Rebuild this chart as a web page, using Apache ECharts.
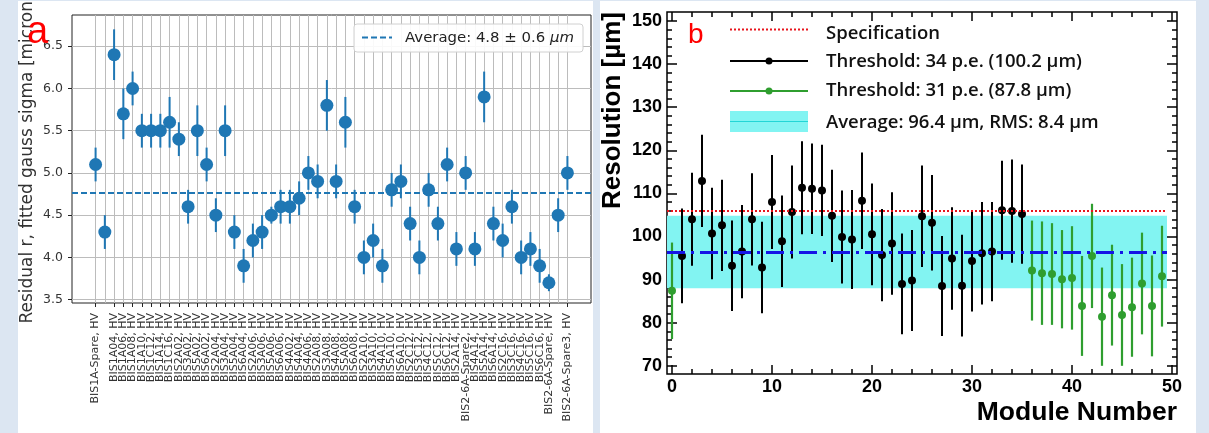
<!DOCTYPE html>
<html><head><meta charset="utf-8">
<script src="https://cdn.jsdelivr.net/npm/echarts@6/dist/echarts.min.js"></script>
<style>
html,body{margin:0;padding:0;background:#dce6f2;overflow:hidden;}
#wrap{position:relative;width:1209px;height:433px;}
.panel{position:absolute;background:#fff;}
#chart{position:absolute;left:0;top:0;width:1209px;height:433px;}
</style></head><body>
<div id="wrap">
<div class="panel" style="left:18px;top:1px;width:575px;height:432px"></div>
<div class="panel" style="left:600px;top:1px;width:596px;height:432px"></div>
<div id="chart"></div>
</div>
<script>
// ---------- Panel a ----------
const moduleLabels = ["BIS1A-Spare, HV","BIS1A02, HV","BIS1A04, HV","BIS1A06, HV","BIS1A08, HV","BIS1A10, HV","BIS1C12, HV","BIS1A14, HV","BIS1C16, HV",
"BIS2A02, HV","BIS3A02, HV","BIS5A02, HV","BIS6A02, HV",
"BIS2A04, HV","BIS3A04, HV","BIS5A04, HV","BIS6A04, HV",
"BIS2A06, HV","BIS3A06, HV","BIS5A06, HV","BIS6A06, HV",
"BIS4A02, HV","BIS4A04, HV","BIS4A06, HV",
"BIS2A08, HV","BIS3A08, HV","BIS4A08, HV","BIS5A08, HV","BIS6A08, HV",
"BIS2A10, HV","BIS3A10, HV","BIS4A10, HV","BIS5A10, HV","BIS6A10, HV",
"BIS2C12, HV","BIS3C12, HV","BIS4C12, HV","BIS5C12, HV","BIS6C12, HV",
"BIS2A14, HV","BIS2-6A-Spare2, HV","BIS4A14, HV","BIS5A14, HV","BIS6A14, HV",
"BIS2C16, HV","BIS3C16, HV","BIS4C16, HV","BIS5C16, HV","BIS6C16, HV",
"BIS2-6A-Spare, HV","BIS3A14, HV","BIS2-6A-Spare3, HV"];
const sigmaValues = [5.1,4.3,6.4,5.7,6.0,5.5,5.5,5.5,5.6,5.4,4.6,5.5,5.1,4.5,5.5,4.3,3.9,4.2,4.3,4.5,4.6,4.6,4.7,5.0,4.9,5.8,4.9,5.6,4.6,4.0,4.2,3.9,4.8,4.9,4.4,4.0,4.8,4.4,5.1,4.1,5.0,4.1,5.9,4.4,4.2,4.6,4.0,4.1,3.9,3.7,4.5,5.0];
const sigmaErrors = [0.2,0.2,0.3,0.3,0.2,0.2,0.2,0.2,0.3,0.2,0.2,0.3,0.2,0.2,0.3,0.2,0.2,0.2,0.2,0.1,0.2,0.2,0.2,0.2,0.2,0.3,0.2,0.3,0.2,0.2,0.2,0.2,0.2,0.2,0.2,0.2,0.2,0.2,0.2,0.2,0.2,0.2,0.3,0.2,0.2,0.2,0.2,0.2,0.2,0.1,0.2,0.2];
const sigmaAverage = 4.77;
const sigmaTicks = [3.5,4.0,4.5,5.0,5.5,6.0,6.5];

// ---------- Panel b ----------
const moduleNumbers = [0,1,2,3,4,5,6,7,8,9,10,11,12,13,14,15,16,17,18,19,20,21,22,23,24,25,26,27,28,29,30,31,32,33,34,35,36,37,38,39,40,41,42,43,44,45,46,47,48,49];
const resolution = [87.4,95.5,104.0,112.9,100.7,102.6,93.2,96.5,104.0,92.8,108.0,98.9,105.7,111.3,111.1,110.7,104.8,99.9,99.3,108.3,100.5,95.7,98.4,89.0,89.8,104.7,103.2,88.5,94.9,88.6,94.3,96.1,96.5,106.1,105.9,105.2,92.1,91.5,91.3,90.1,90.4,83.9,95.5,81.4,86.4,81.8,83.6,89.1,83.9,90.8];
const resolutionErr = [11.2,11.0,10.8,10.7,10.6,10.6,10.5,10.8,10.7,10.6,10.9,10.6,10.8,10.8,10.5,10.6,10.7,10.8,11.5,11.2,11.8,10.7,11.9,11.7,11.7,11.8,11.1,11.6,11.9,11.8,11.7,11.9,11.5,11.5,12.0,11.5,11.6,12.0,11.8,11.4,12.0,11.6,12.1,11.4,11.7,11.8,11.5,11.8,11.7,11.7];
const lowThresholdModules = [0,36,37,38,39,40,41,42,43,44,45,46,47,48,49];
const specification = 106;
const resAverage = 96.4;
const resRMS = 8.4;
const resXMajor = [0,10,20,30,40,50];
const resXMinor = [0,2,4,6,8,10,12,14,16,18,20,22,24,26,28,30,32,34,36,38,40,42,44,46,48,50];
const resYMajor = [70,80,90,100,110,120,130,140,150];
const resYMinor = [70,72,74,76,78,80,82,84,86,88,90,92,94,96,98,100,102,104,106,108,110,112,114,116,118,120,122,124,126,128,130,132,134,136,138,140,142,144,146,148,150];

const chart = echarts.init(document.getElementById('chart'), null, {renderer:'canvas'});
const idx = moduleLabels.map((_, i) => i);
const blue = '#1f77b4';

function errRender(color, width) {
  return function (params, api) {
    const x = api.value(0), y = api.value(1), e = api.value(2);
    const a = api.coord([x, y - e]), b = api.coord([x, y + e]);
    return {type:'line', shape:{x1:a[0], y1:a[1], x2:b[0], y2:b[1]}, style:{stroke:color, lineWidth:width}};
  };
}

const blackIdx = moduleNumbers.filter(m => lowThresholdModules.indexOf(m) < 0);
const greenIdx = moduleNumbers.filter(m => lowThresholdModules.indexOf(m) >= 0);

const rootLabel = {fontFamily:'Liberation Sans', fontWeight:'bold', fontSize:18, color:'#000', showMinLabel:true, showMaxLabel:true};
function rx(pos, ticks, len, labels) {
  return {type:'value', gridIndex:1, position:pos, min:-0.5, max:50.5,
    axisLine:{show:false, onZero:false},
    axisTick:{show:true, inside:true, length:len, customValues:ticks, lineStyle:{color:'#000', width:1.5}},
    axisLabel: labels ? Object.assign({show:true, customValues:ticks, margin:4}, rootLabel) : {show:false},
    splitLine:{show:false}};
}
function ry(pos, ticks, len, labels) {
  return {type:'value', gridIndex:1, position:pos, min:68.1, max:152.1,
    axisLine:{show:false, onZero:false},
    axisTick:{show:true, inside:true, length:len, customValues:ticks, lineStyle:{color:'#000', width:1.5}},
    axisLabel: labels ? Object.assign({show:true, customValues:ticks, margin:5}, rootLabel) : {show:false},
    splitLine:{show:false}};
}

const legendFont = {fontSize:18.5, fontWeight:600, fontFamily:'Open Sans', fill:'#111', verticalAlign:'middle'};

const option = {
  animation:false,
  backgroundColor:'transparent',
  grid:[
    {left:72, top:15, width:519, height:288, show:true, borderColor:'#222', borderWidth:1, backgroundColor:'transparent'},
    {left:667, top:12, width:510, height:362, show:true, borderColor:'#000', borderWidth:1.5, backgroundColor:'transparent'}
  ],
  xAxis:[
    {type:'value', gridIndex:0, min:-2.55, max:53.55,
      axisLine:{show:false, onZero:false},
      axisTick:{show:true, length:4, customValues:idx, lineStyle:{color:'#222'}},
      axisLabel:{customValues:idx, rotate:90, formatter:v => moduleLabels[v], fontSize:11, fontFamily:'DejaVu Sans', color:'#333', margin:10, showMinLabel:true, showMaxLabel:true, hideOverlap:false},
      splitLine:{show:true, lineStyle:{color:'#bcbcbc', width:1}}},
    rx('bottom', resXMajor, 9, true),
    rx('bottom', resXMinor, 5, false),
    rx('top', resXMajor, 9, false),
    rx('top', resXMinor, 5, false)
  ],
  yAxis:[
    {type:'value', gridIndex:0, min:3.46, max:6.87,
      axisLine:{show:false, onZero:false},
      axisTick:{show:true, length:4, customValues:sigmaTicks, lineStyle:{color:'#222'}},
      axisLabel:{customValues:sigmaTicks, formatter:v => v.toFixed(1), fontSize:12.5, fontFamily:'DejaVu Sans', color:'#333', margin:9, showMinLabel:true, showMaxLabel:true},
      splitLine:{show:true, lineStyle:{color:'#bcbcbc', width:1}}},
    ry('left', resYMajor, 10, true),
    ry('left', resYMinor, 5, false),
    ry('right', resYMajor, 10, false),
    ry('right', resYMinor, 5, false)
  ],
  series:[
    {type:'custom', xAxisIndex:0, yAxisIndex:0, z:3,
      renderItem: errRender(blue, 2),
      data: sigmaValues.map((v, i) => [i, v, sigmaErrors[i]]),
      markLine:{silent:true, symbol:'none', label:{show:false},
        lineStyle:{color:blue, type:[6,3], width:2},
        data:[{yAxis:sigmaAverage}]}},
    {type:'scatter', xAxisIndex:0, yAxisIndex:0, z:4, symbolSize:13,
      itemStyle:{color:blue, opacity:1},
      data: sigmaValues.map((v, i) => [i, v])},
    {type:'line', xAxisIndex:1, yAxisIndex:1, z:1, showSymbol:false, silent:true,
      data:[[-0.5, resAverage]],
      markArea:{silent:true, itemStyle:{color:'#82f4f2', opacity:1},
        data:[[{coord:[-0.5, resAverage - resRMS]}, {coord:[49.5, resAverage + resRMS]}]]},
      markLine:{silent:true, symbol:'none', label:{show:false},
        data:[
          [{coord:[-0.5, specification], lineStyle:{color:'#e8141c', type:[2,2], width:2}}, {coord:[49.5, specification]}],
          [{coord:[-0.5, resAverage], lineStyle:{color:'#1414e6', type:[18,6,3,6], width:3}}, {coord:[49.5, resAverage]}]
        ]}},
    {type:'custom', xAxisIndex:1, yAxisIndex:1, z:3,
      renderItem: errRender('#000', 2),
      data: blackIdx.map(m => [m, resolution[m], resolutionErr[m]])},
    {type:'scatter', xAxisIndex:1, yAxisIndex:1, z:4, symbolSize:8,
      itemStyle:{color:'#000', opacity:1},
      data: blackIdx.map(m => [m, resolution[m]])},
    {type:'custom', xAxisIndex:1, yAxisIndex:1, z:3,
      renderItem: errRender('#2f9e2f', 2.2),
      data: greenIdx.map(m => [m, resolution[m], resolutionErr[m]])},
    {type:'scatter', xAxisIndex:1, yAxisIndex:1, z:4, symbolSize:8,
      itemStyle:{color:'#2f9e2f', opacity:1},
      data: greenIdx.map(m => [m, resolution[m]])}
  ],
  graphic:[
    // panel a texts
    {type:'text', x:28, y:159, rotation:Math.PI/2, z:10,
      style:{text:'Residual r, fitted gauss sigma [micron]', fontSize:17, fontFamily:'DejaVu Sans', fill:'#333', align:'center', verticalAlign:'middle'}},
    {type:'text', x:27, y:33, z:11,
      style:{text:'a', fontSize:38, fontFamily:'Liberation Sans', fill:'#ff0000', align:'left', verticalAlign:'middle'}},
    {type:'rect', z:10, shape:{x:354, y:24, width:229, height:28, r:3},
      style:{fill:'rgba(255,255,255,0.9)', stroke:'#d0d0d0', lineWidth:1}},
    {type:'line', z:11, shape:{x1:362, y1:37.5, x2:392, y2:37.5},
      style:{stroke:blue, lineWidth:2, lineDash:[6,3]}},
    {type:'text', x:405, y:38, z:11,
      style:{text:'{n|Average: 4.8 ± 0.6 }{i|μm}', verticalAlign:'middle', align:'left',
        rich:{n:{fontSize:14.9, fontFamily:'DejaVu Sans', fill:'#222', color:'#222'},
              i:{fontSize:14.9, fontFamily:'DejaVu Sans', fontStyle:'italic', fill:'#222', color:'#222'}}}},
    // panel b texts
    {type:'text', x:613, y:12, rotation:Math.PI/2, z:10,
      style:{text:'Resolution [µm]', fontSize:26, fontWeight:'bold', fontFamily:'Liberation Sans', fill:'#000', align:'right', verticalAlign:'middle'}},
    {type:'text', x:1177, y:413, z:10,
      style:{text:'Module Number', fontSize:26.5, fontWeight:'bold', fontFamily:'Liberation Sans', fill:'#000', align:'right', verticalAlign:'middle'}},
    {type:'text', x:688, y:35, z:11,
      style:{text:'b', fontSize:28, fontFamily:'Liberation Sans', fill:'#ff0000', align:'left', verticalAlign:'middle'}},
    // legend b
    {type:'line', z:11, shape:{x1:730, y1:29.5, x2:808, y2:29.5}, style:{stroke:'#e8141c', lineWidth:2, lineDash:[2,2]}},
    {type:'line', z:11, shape:{x1:730, y1:61, x2:808, y2:61}, style:{stroke:'#000', lineWidth:2}},
    {type:'circle', z:12, shape:{cx:769, cy:61, r:3.5}, style:{fill:'#000'}},
    {type:'line', z:11, shape:{x1:730, y1:91, x2:808, y2:91}, style:{stroke:'#2f9e2f', lineWidth:2}},
    {type:'circle', z:12, shape:{cx:769, cy:91, r:3.5}, style:{fill:'#2f9e2f'}},
    {type:'rect', z:11, shape:{x:730, y:111, width:78, height:21}, style:{fill:'#82f4f2'}},
    {type:'line', z:12, shape:{x1:730, y1:121.5, x2:808, y2:121.5}, style:{stroke:'#22d6d6', lineWidth:1}},
    {type:'text', x:826, y:34, z:11, style:Object.assign({text:'Specification'}, legendFont)},
    {type:'text', x:826, y:62, z:11, style:Object.assign({text:'Threshold: 34 p.e. (100.2 µm)'}, legendFont)},
    {type:'text', x:826, y:91, z:11, style:Object.assign({text:'Threshold: 31 p.e. (87.8 µm)'}, legendFont)},
    {type:'text', x:826, y:123, z:11, style:Object.assign({text:'Average: 96.4 µm, RMS: 8.4 µm'}, legendFont)}
  ]
};
chart.setOption(option);
</script>
</body></html>
